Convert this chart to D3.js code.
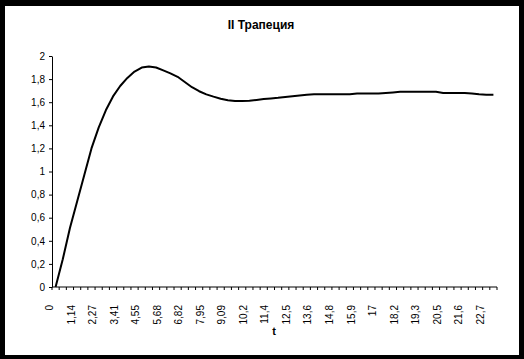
<!DOCTYPE html>
<html>
<head>
<meta charset="utf-8">
<script src="https://cdn.jsdelivr.net/npm/d3@7"></script>
<style>
  body { margin: 0; background: #000; }
  text { font-family: "Liberation Sans", Arial, sans-serif; fill: #000; }
</style>
</head>
<body>
<div id="chart"></div>
<script>
// t categories (step ~0.3788)
const tValues = [
  0, 0.379, 0.758, 1.136, 1.515, 1.894, 2.273, 2.652, 3.030, 3.409,
  3.788, 4.167, 4.545, 4.924, 5.303, 5.682, 6.061, 6.439, 6.818, 7.197,
  7.576, 7.955, 8.333, 8.712, 9.091, 9.470, 9.848, 10.227, 10.606, 10.985,
  11.364, 11.742, 12.121, 12.500, 12.879, 13.258, 13.636, 14.015, 14.394, 14.773,
  15.152, 15.530, 15.909, 16.288, 16.667, 17.045, 17.424, 17.803, 18.182, 18.561,
  18.939, 19.318, 19.697, 20.076, 20.455, 20.833, 21.212, 21.591, 21.970, 22.348,
  22.727, 23.106
];

// series values
const values = [
  0, 0.24, 0.51, 0.74, 0.97, 1.20, 1.38, 1.53, 1.65, 1.74,
  1.81, 1.865, 1.90, 1.91, 1.90, 1.875, 1.85, 1.82, 1.775, 1.73,
  1.695, 1.668, 1.648, 1.63, 1.617, 1.61, 1.61, 1.613, 1.62, 1.627,
  1.633, 1.638, 1.645, 1.652, 1.658, 1.665, 1.668, 1.668, 1.668, 1.668,
  1.668, 1.668, 1.675, 1.676, 1.676, 1.676, 1.68, 1.685, 1.69, 1.69,
  1.69, 1.69, 1.69, 1.69, 1.68, 1.68, 1.68, 1.68, 1.675, 1.668,
  1.665, 1.665
];

// every third category gets a label
const xTickLabels = [
  "0", "1,14", "2,27", "3,41", "4,55", "5,68", "6,82", "7,95", "9,09", "10,2",
  "11,4", "12,5", "13,6", "14,8", "15,9", "17", "18,2", "19,3", "20,5", "21,6", "22,7"
];
const yTicks = [0, 0.2, 0.4, 0.6, 0.8, 1, 1.2, 1.4, 1.6, 1.8, 2];

const W = 524, H = 359;
const plot = { left: 52, right: 497, top: 56, bottom: 287 };

const svg = d3.select("#chart").append("svg").attr("width", W).attr("height", H);

svg.append("rect").attr("width", W).attr("height", H).attr("fill", "#000");
svg.append("rect").attr("x", 5).attr("y", 6).attr("width", 514).attr("height", 349).attr("fill", "#fff");

const x = d3.scaleBand().domain(tValues).range([plot.left, plot.right]).padding(0);
const y = d3.scaleLinear().domain([0, 2]).range([plot.bottom, plot.top]);
const cx = (t) => x(t) + x.bandwidth() / 2;

// title
svg.append("text")
  .attr("x", 261).attr("y", 29)
  .attr("text-anchor", "middle")
  .style("font-size", "12px").style("font-weight", "bold")
  .text("II Трапеция");

// y axis
const yAxis = d3.axisLeft(y)
  .tickValues(yTicks)
  .tickSize(3)
  .tickSizeOuter(0)
  .tickPadding(4)
  .tickFormat((d) => d3.format("~g")(d).replace(".", ","));

const gy = svg.append("g").attr("transform", `translate(${plot.left},0)`).call(yAxis);
gy.selectAll("text").style("font-size", "10px").style("font-family", "Liberation Sans, Arial, sans-serif");
gy.selectAll("line, path").attr("stroke", "#000");

// x axis line + ticks at band edges
const gx = svg.append("g");
gx.append("line")
  .attr("x1", plot.left).attr("x2", plot.right)
  .attr("y1", plot.bottom).attr("y2", plot.bottom)
  .attr("stroke", "#000");

const tickPos = tValues.map((t) => x(t)).concat([plot.right]);
gx.selectAll(".xt").data(tickPos).enter().append("line")
  .attr("class", "xt")
  .attr("x1", (d) => d).attr("x2", (d) => d)
  .attr("y1", plot.bottom).attr("y2", plot.bottom + 3)
  .attr("stroke", "#000");

gx.selectAll(".xl").data(xTickLabels).enter().append("text")
  .attr("class", "xl")
  .attr("transform", (d, i) => `translate(${cx(tValues[i * 3]) - 6},305) rotate(-90)`)
  .attr("text-anchor", "end")
  .attr("dy", "0.35em")
  .style("font-size", "10px")
  .text((d) => d);

// axis title
svg.append("text")
  .attr("x", 274).attr("y", 335)
  .attr("text-anchor", "middle")
  .style("font-size", "11px").style("font-weight", "bold")
  .text("t");

// line
const line = d3.line()
  .x((d, i) => cx(tValues[i]))
  .y((d) => y(d));

svg.append("path")
  .datum(values)
  .attr("fill", "none")
  .attr("stroke", "#000")
  .attr("stroke-width", 2)
  .attr("stroke-linejoin", "round")
  .attr("d", line);
</script>
</body>
</html>
